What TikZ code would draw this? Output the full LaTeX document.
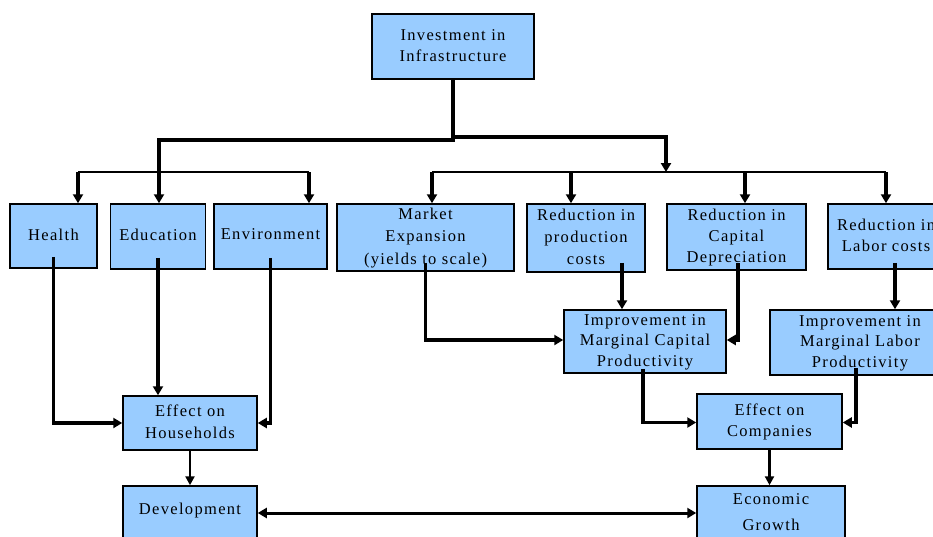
\documentclass[tikz,border=0pt]{standalone}
\usepackage{fontspec}
\setmainfont{Liberation Serif}[LetterSpace=8]
\usetikzlibrary{arrows.meta}
\definecolor{boxblue}{RGB}{153,204,255}
\newcommand\boxtxt[2]{\raisebox{#1}{\begin{tabular}{@{}c@{}}#2\end{tabular}}}
\begin{document}
\begin{tikzpicture}[x=1pt,y=-1pt,
  box/.style={draw=black,line width=1.5pt,fill=boxblue,inner sep=0pt,
    font=\fontsize{16.5}{21.5}\selectfont},
  conn/.style={line width=3.2pt,-{Triangle[length=9pt,width=10pt]}},
  connthin/.style={line width=2.4pt,-{Triangle[length=9pt,width=9pt]}},
  dist/.style={line width=1.8pt},
  biconn/.style={line width=3pt,{Triangle[length=9pt,width=10pt]}-{Triangle[length=9pt,width=10pt]}}]
\useasboundingbox[fill=white] (0,0) rectangle (933,536);

% nodes
\node[box,minimum width=162pt,minimum height=65pt] (top) at (453,46.5) {\boxtxt{0pt}{Investment in\\Infrastructure}};

\node[box,minimum width=87pt,minimum height=64pt] (health) at (53.5,236) {\boxtxt{-3pt}{Health}};
\node[box,minimum width=95pt,minimum height=65pt] (edu) at (158,236.5) {\boxtxt{3pt}{Education}};
\node[box,minimum width=113pt,minimum height=65pt] (env) at (270.5,236.5) {\boxtxt{9pt}{Environment}};
\node[box,minimum width=177pt,minimum height=67pt] (market) at (425.5,237.5) {\boxtxt{-3pt}{Market\\[1pt]Expansion\\[1pt](yields to scale)}};
\node[box,minimum width=118pt,minimum height=68pt] (redprod) at (586,238) {\boxtxt{-6pt}{Reduction in\\[0.5pt]production\\[0.5pt]costs}};
\node[box,minimum width=139pt,minimum height=66pt] (redcap) at (736.5,237) {\boxtxt{2pt}{Reduction in\\[-0.5pt]Capital\\[-0.5pt]Depreciation}};
\node[box,minimum width=116pt,minimum height=65pt] (redlab) at (886,236.5) {\boxtxt{0pt}{Reduction in\\Labor costs}};

\node[box,minimum width=162pt,minimum height=63pt] (impcap) at (645,341.5) {\boxtxt{2pt}{Improvement in\\[-1pt]Marginal Capital\\[-1pt]Productivity}};
\node[box,minimum width=180pt,minimum height=65pt] (implab) at (860,342.5) {\boxtxt{5pt}{Improvement in\\[-1pt]Marginal Labor\\[-1pt]Productivity}};

\node[box,minimum width=134pt,minimum height=54pt] (household) at (190,423) {\boxtxt{12pt}{Effect on\\Households}};
\node[box,minimum width=145pt,minimum height=55pt] (companies) at (769.5,421.5) {\boxtxt{17pt}{Effect on\\Companies}};

\node[box,minimum width=134pt,minimum height=70pt] (dev) at (190,521) {\boxtxt{28pt}{Development}};
\node[box,minimum width=148pt,minimum height=70pt] (growth) at (771,521) {\boxtxt{36pt}{Economic\\[4.5pt]Growth}};

% junction coordinates
\coordinate (jl) at (159,140);
\coordinate (jr) at (666,137);
\coordinate (jr2) at (666,172);
\coordinate (hl) at (78,172);
\coordinate (hr) at (309,172);
\coordinate (rl) at (432,172);
\coordinate (rp) at (571,172);
\coordinate (rc) at (745,172);
\coordinate (rr) at (886,172);

% top distribution
\draw[conn] (top.south) |- (jl) -- (jl |- edu.north);
\draw[conn] (top.south) |- (jr) -- (jr2);
\draw[dist] (hl) -- (hr);
\draw[conn] (hl) -- (hl |- health.north);
\draw[conn] (hr) -- (hr |- env.north);
\draw[dist] (rl) -- (rr);
\draw[conn] (rl) -- (rl |- market.north);
\draw[conn] (rp) -- (rp |- redprod.north);
\draw[conn] (rc) -- (rc |- redcap.north);
\draw[conn] (rr) -- (rr |- redlab.north);

% left side
\draw[conn] ([yshift=12pt]health.south) |- (household.west);
\draw[conn] ([yshift=12pt]edu.south) -- (edu.south |- household.north);
\draw[conn] ([yshift=12pt]env.south) |- (household.east);
\draw[connthin] (household.south) -- (dev.north);

% right side
\draw[conn] ([yshift=9pt]market.south) |- ([yshift=1.5pt]impcap.west);
\draw[conn] ([xshift=36pt,yshift=10pt]redprod.south) -- ([xshift=36pt]redprod.south |- impcap.north);
\draw[conn] ([xshift=1.5pt,yshift=8pt]redcap.south) |- ([yshift=1.5pt]impcap.east);
\draw[conn] ([xshift=9pt,yshift=7pt]redlab.south) -- ([xshift=9pt]redlab.south |- implab.north);
\draw[conn] ([xshift=-2pt,yshift=5pt]impcap.south) |- ([yshift=-1pt]companies.west);
\draw[conn] ([xshift=-4pt,yshift=8pt]implab.south) |- ([yshift=-1pt]companies.east);
\draw[connthin] (companies.south) -- (companies.south |- growth.north);

% bottom
\draw[biconn] ([yshift=8pt]dev.east) -- ([yshift=8pt]dev.east -| growth.west);
\end{tikzpicture}
\end{document}
